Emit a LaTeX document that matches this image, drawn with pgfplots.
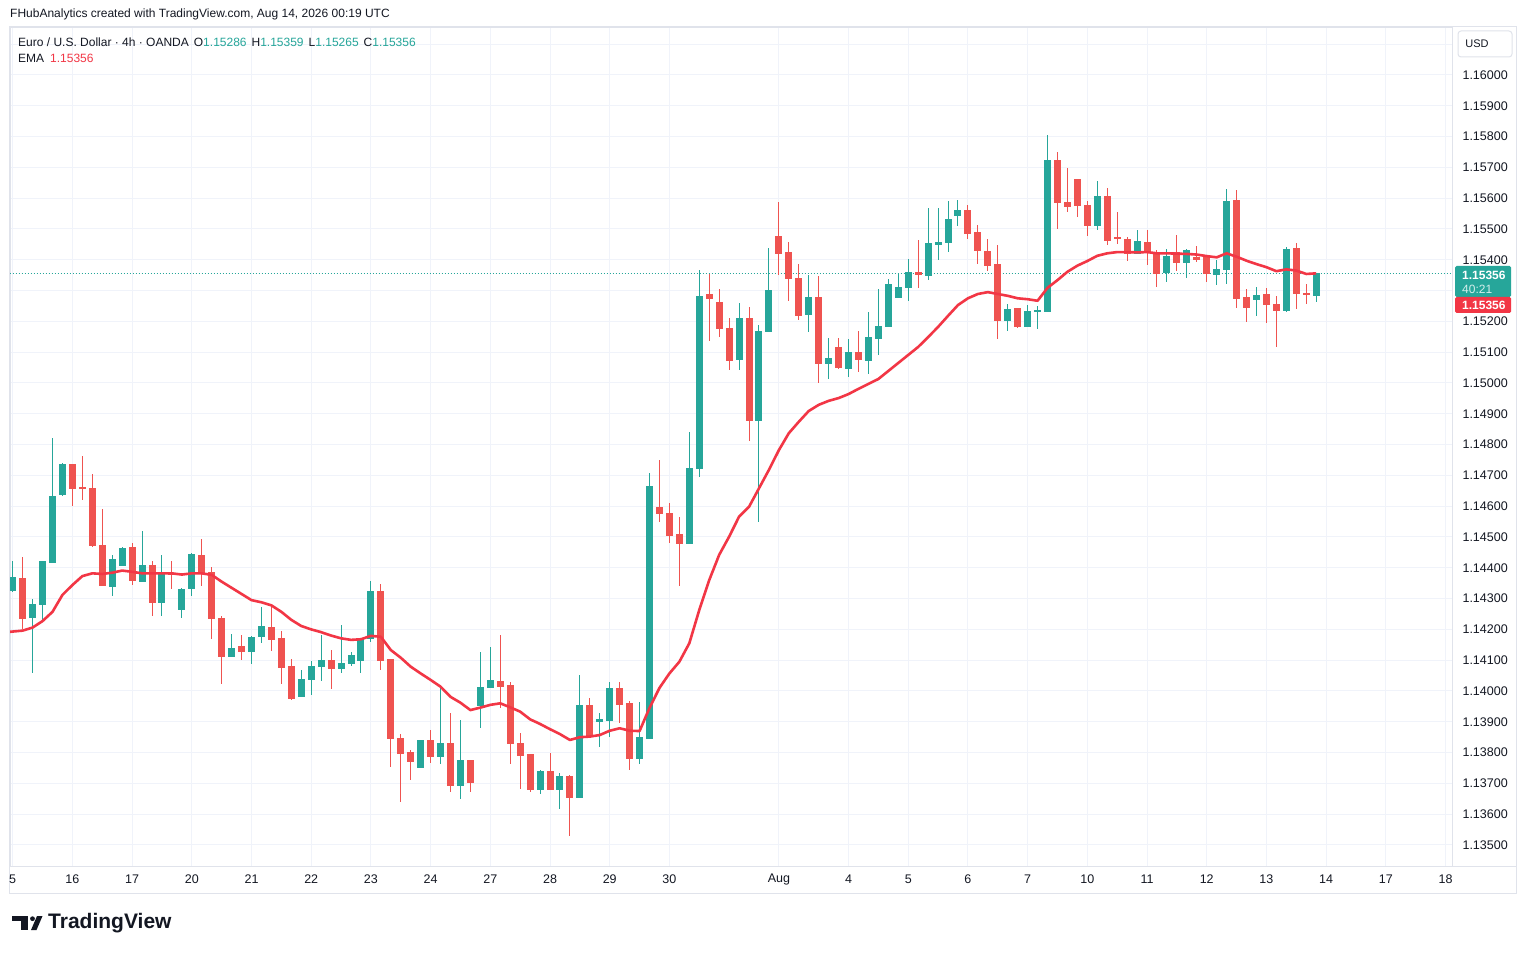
\documentclass[border=0pt]{standalone}
\usepackage{pgfplots}
\pgfplotsset{compat=1.18}
\usepackage{pgfplotstable}
\usepackage{fontspec}
\setmainfont{Liberation Sans}
\definecolor{tvup}{HTML}{26A69A}
\definecolor{tvdown}{HTML}{EF5350}
\definecolor{tvema}{HTML}{F23645}
\definecolor{tvtext}{HTML}{131722}
\definecolor{tvgrid}{HTML}{F0F3FA}
\definecolor{tvborder}{HTML}{E0E3EB}

% up (teal) candles: index, open, high, low, close
\pgfplotstableread{
i o h l c
0 1.14326 1.14422 1.14323 1.14370
2 1.14238 1.14299 1.14060 1.14283
3 1.14281 1.14419 1.14233 1.14419
4 1.14417 1.14822 1.14417 1.14633
5 1.14638 1.14742 1.14633 1.14737
10 1.14342 1.14442 1.14310 1.14429
11 1.14407 1.14468 1.14407 1.14465
13 1.14355 1.14520 1.14355 1.14409
15 1.14287 1.14442 1.14242 1.14381
17 1.14264 1.14335 1.14238 1.14331
18 1.14333 1.14448 1.14310 1.14442
22 1.14112 1.14185 1.14112 1.14137
24 1.14128 1.14178 1.14089 1.14175
25 1.14177 1.14273 1.14157 1.14211
29 1.13985 1.14068 1.13981 1.14039
30 1.14037 1.14099 1.13988 1.14081
31 1.14079 1.14183 1.14033 1.14099
33 1.14073 1.14214 1.14060 1.14090
34 1.14089 1.14128 1.14080 1.14117
35 1.14099 1.14169 1.14060 1.14169
36 1.14171 1.14357 1.14161 1.14325
41 1.13751 1.13841 1.13751 1.13841
43 1.13787 1.14012 1.13764 1.13831
45 1.13693 1.13906 1.13651 1.13776
47 1.13953 1.14127 1.13881 1.14013
48 1.14011 1.14144 1.14011 1.14036
53 1.13683 1.13743 1.13667 1.13740
55 1.13683 1.13734 1.13618 1.13724
57 1.13654 1.14052 1.13654 1.13955
59 1.13901 1.13929 1.13818 1.13907
60 1.13906 1.14032 1.13851 1.14010
63 1.13780 1.13967 1.13764 1.13851
64 1.13846 1.14708 1.13846 1.14666
68 1.14479 1.14841 1.14479 1.14724
69 1.14722 1.15367 1.14696 1.15283
73 1.15076 1.15260 1.15043 1.15211
75 1.14878 1.15188 1.14550 1.15169
76 1.15167 1.15438 1.15167 1.15302
80 1.15221 1.15351 1.15167 1.15279
82 1.15063 1.15146 1.15014 1.15081
84 1.15050 1.15143 1.15021 1.15101
86 1.15073 1.15231 1.15030 1.15146
87 1.15144 1.15305 1.15092 1.15185
88 1.15183 1.15338 1.15183 1.15321
89 1.15280 1.15354 1.15280 1.15312
90 1.15310 1.15403 1.15267 1.15360
92 1.15352 1.15568 1.15336 1.15455
93 1.15452 1.15568 1.15400 1.15458
94 1.15456 1.15591 1.15426 1.15532
95 1.15543 1.15594 1.15511 1.15562
100 1.15203 1.15258 1.15170 1.15240
102 1.15185 1.15253 1.15183 1.15234
103 1.15232 1.15250 1.15177 1.15236
104 1.15232 1.15805 1.15229 1.15724
109 1.15511 1.15656 1.15498 1.15607
113 1.15422 1.15497 1.15420 1.15461
116 1.15358 1.15438 1.15329 1.15412
118 1.15391 1.15435 1.15342 1.15429
121 1.15355 1.15399 1.15319 1.15370
122 1.15368 1.15630 1.15322 1.15591
125 1.15271 1.15312 1.15219 1.15286
128 1.15238 1.15442 1.15232 1.15435
131 1.15286 1.15359 1.15265 1.15356
}\upcandles

% down (red) candles: index, open, high, low, close
\pgfplotstableread{
i o h l c
1 1.14366 1.14435 1.14201 1.14238
6 1.14737 1.14737 1.14601 1.14657
7 1.14661 1.14763 1.14620 1.14657
8 1.14659 1.14705 1.14468 1.14471
9 1.14474 1.14591 1.14342 1.14342
12 1.14465 1.14481 1.14346 1.14359
14 1.14409 1.14422 1.14245 1.14287
16 1.14383 1.14422 1.14333 1.14380
19 1.14442 1.14494 1.14339 1.14384
20 1.14386 1.14403 1.14170 1.14235
21 1.14237 1.14242 1.14024 1.14112
23 1.14146 1.14182 1.14102 1.14128
26 1.14208 1.14285 1.14131 1.14167
27 1.14172 1.14195 1.14024 1.14076
28 1.14081 1.14104 1.13972 1.13975
32 1.14099 1.14133 1.14005 1.14073
37 1.14325 1.14348 1.14069 1.14102
38 1.14104 1.14104 1.13755 1.13845
39 1.13847 1.13862 1.13638 1.13797
40 1.13800 1.13809 1.13712 1.13771
42 1.13841 1.13874 1.13768 1.13787
44 1.13831 1.13929 1.13673 1.13693
46 1.13776 1.13776 1.13673 1.13703
49 1.14033 1.14182 1.13946 1.14017
50 1.14020 1.14029 1.13764 1.13829
51 1.13831 1.13864 1.13682 1.13793
52 1.13795 1.13795 1.13671 1.13680
54 1.13740 1.13799 1.13680 1.13683
56 1.13724 1.13727 1.13530 1.13654
58 1.13955 1.13977 1.13847 1.13857
61 1.14010 1.14029 1.13896 1.13959
62 1.13961 1.13967 1.13745 1.13780
65 1.14598 1.14750 1.14550 1.14576
66 1.14578 1.14611 1.14479 1.14505
67 1.14507 1.14565 1.14342 1.14479
70 1.15287 1.15354 1.15138 1.15274
71 1.15260 1.15308 1.15151 1.15176
72 1.15179 1.15211 1.15043 1.15076
74 1.15211 1.15247 1.14813 1.14878
77 1.15477 1.15588 1.15351 1.15419
78 1.15423 1.15459 1.15267 1.15339
79 1.15342 1.15386 1.15205 1.15221
81 1.15279 1.15347 1.15001 1.15063
83 1.15117 1.15146 1.15047 1.15050
85 1.15101 1.15169 1.15037 1.15076
91 1.15360 1.15464 1.15310 1.15353
96 1.15562 1.15578 1.15469 1.15485
97 1.15490 1.15513 1.15388 1.15430
98 1.15429 1.15468 1.15365 1.15381
99 1.15386 1.15448 1.15144 1.15202
101 1.15244 1.15244 1.15180 1.15185
105 1.15724 1.15750 1.15501 1.15586
106 1.15588 1.15698 1.15556 1.15576
107 1.15662 1.15662 1.15540 1.15576
108 1.15578 1.15591 1.15478 1.15511
110 1.15607 1.15636 1.15449 1.15464
111 1.15471 1.15555 1.15453 1.15468
112 1.15468 1.15474 1.15397 1.15421
114 1.15458 1.15497 1.15384 1.15425
115 1.15425 1.15432 1.15313 1.15358
117 1.15425 1.15481 1.15365 1.15391
119 1.15407 1.15445 1.15394 1.15403
120 1.15408 1.15415 1.15329 1.15355
123 1.15594 1.15627 1.15245 1.15277
124 1.15279 1.15305 1.15199 1.15245
126 1.15289 1.15308 1.15196 1.15254
127 1.15257 1.15283 1.15118 1.15235
129 1.15438 1.15455 1.15241 1.15290
130 1.15292 1.15322 1.15258 1.15289
}\downcandles

% EMA line
\pgfplotstableread{
i ema
-0.3 1.14192
0 1.14193
1 1.14196
2 1.14206
3 1.14227
4 1.14257
5 1.14312
6 1.14344
7 1.14373
8 1.14382
9 1.14380
10 1.14384
11 1.14391
12 1.14387
13 1.14382
14 1.14382
15 1.14382
16 1.14382
17 1.14378
18 1.14382
19 1.14382
20 1.14377
21 1.14355
22 1.14335
23 1.14315
24 1.14295
25 1.14288
26 1.14278
27 1.14257
28 1.14231
29 1.14211
30 1.14200
31 1.14191
32 1.14180
33 1.14171
34 1.14166
35 1.14168
36 1.14179
37 1.14176
38 1.14133
39 1.14108
40 1.14079
41 1.14057
42 1.14036
43 1.14014
44 1.13981
45 1.13962
46 1.13938
47 1.13946
48 1.13955
49 1.13960
50 1.13947
51 1.13933
52 1.13908
53 1.13893
54 1.13876
55 1.13860
56 1.13841
57 1.13850
58 1.13852
59 1.13857
60 1.13871
61 1.13879
62 1.13871
63 1.13870
64 1.13945
65 1.14010
66 1.14057
67 1.14095
68 1.14155
69 1.14263
70 1.14360
71 1.14442
72 1.14501
73 1.14566
74 1.14598
75 1.14658
76 1.14718
77 1.14782
78 1.14837
79 1.14874
80 1.14909
81 1.14929
82 1.14942
83 1.14951
84 1.14964
85 1.14981
86 1.14997
87 1.15013
88 1.15039
89 1.15065
90 1.15091
91 1.15117
92 1.15149
93 1.15182
94 1.15218
95 1.15253
96 1.15275
97 1.15289
98 1.15295
99 1.15289
100 1.15283
101 1.15275
102 1.15272
103 1.15267
104 1.15309
105 1.15334
106 1.15361
107 1.15381
108 1.15396
109 1.15413
110 1.15421
111 1.15425
112 1.15425
113 1.15424
114 1.15425
115 1.15421
116 1.15421
117 1.15420
118 1.15419
119 1.15417
120 1.15412
121 1.15408
122 1.15421
123 1.15410
124 1.15397
125 1.15386
126 1.15376
127 1.15363
128 1.15369
129 1.15365
130 1.15354
131 1.15356
}\ematable

\begin{document}
\begin{tikzpicture}[x=1pt,y=1pt]
\path[use as bounding box] (0,0) rectangle (1526,954);
\fill[white] (0,0) rectangle (1526,954);

% header
\node[anchor=west, inner sep=0pt, text=tvtext] at (10,940)
  {\fontsize{12}{14}\selectfont FHubAnalytics created with TradingView.com, Aug 14, 2026 00:19 UTC};

% widget frame
\draw[tvborder, line width=1pt] (9,61) rectangle (1516,927);
\draw[tvborder, line width=1pt] (1452,88) -- (1516,88);

\begin{axis}[
  at={(10pt,88pt)}, anchor=south west,
  scale only axis, width=1442pt, height=838pt,
  xmin=-0.271, xmax=144.65,
  ymin=1.134318, ymax=1.161526,
  axis line style={tvborder, line width=1pt},
  grid=major,
  major grid style={tvgrid, line width=1pt},
  major tick length=0pt,
  tick style={draw=none},
  xtick={0,6,12,18,24,30,36,42,48,54,60,66,77,84,90,96,102,108,114,120,126,132,138,144},
  xticklabels={5,16,17,20,21,22,23,24,27,28,29,30,Aug,4,5,6,7,10,11,12,13,14,17,18},
  ytick={1.135,1.136,1.137,1.138,1.139,1.140,1.141,1.142,1.143,1.144,1.145,1.146,1.147,1.148,1.149,1.150,1.151,1.152,1.153,1.154,1.155,1.156,1.157,1.158,1.159,1.160,1.161},
  yticklabels={1.13500,1.13600,1.13700,1.13800,1.13900,1.14000,1.14100,1.14200,1.14300,1.14400,1.14500,1.14600,1.14700,1.14800,1.14900,1.15000,1.15100,1.15200,{},1.15400,1.15500,1.15600,1.15700,1.15800,1.15900,1.16000,{}},
  yticklabel pos=right,
  yticklabel style={anchor=west, xshift=7pt, text=tvtext, font=\fontsize{12.5}{14}\selectfont},
  xticklabel style={anchor=center, yshift=-13pt, text=tvtext, font=\fontsize{12.5}{14}\selectfont},
]
% current price dotted line
\addplot[tvup, line width=1pt, dash pattern=on 1pt off 2pt, forget plot]
  coordinates {(-0.3,1.15356) (144.65,1.15356)};

% wicks
\addplot[draw=none, mark=none, forget plot,
  error bars/.cd, y dir=both, y explicit, error mark=none,
  error bar style={draw=tvup, solid, line width=1pt}]
  table[x=i, y expr={(\thisrow{h}+\thisrow{l})/2}, y error expr={(\thisrow{h}-\thisrow{l})/2}] {\upcandles};
\addplot[draw=none, mark=none, forget plot,
  error bars/.cd, y dir=both, y explicit, error mark=none,
  error bar style={draw=tvdown, solid, line width=1pt}]
  table[x=i, y expr={(\thisrow{h}+\thisrow{l})/2}, y error expr={(\thisrow{h}-\thisrow{l})/2}] {\downcandles};
% bodies
\addplot[draw=none, mark=none, forget plot,
  error bars/.cd, y dir=both, y explicit, error mark=none,
  error bar style={draw=tvup, solid, line width=7pt}]
  table[x=i, y expr={(\thisrow{o}+\thisrow{c})/2}, y error expr={abs(\thisrow{c}-\thisrow{o})/2+0.000015}] {\upcandles};
\addplot[draw=none, mark=none, forget plot,
  error bars/.cd, y dir=both, y explicit, error mark=none,
  error bar style={draw=tvdown, solid, line width=7pt}]
  table[x=i, y expr={(\thisrow{o}+\thisrow{c})/2}, y error expr={abs(\thisrow{c}-\thisrow{o})/2+0.000015}] {\downcandles};
% EMA
\addplot[tvema, line width=2.6pt, line join=round, mark=none] table[x=i, y=ema] {\ematable};
\end{axis}

% legend texts
\node[anchor=west, inner sep=0pt, text=tvtext] at (18,912)
  {\fontsize{12}{14}\selectfont Euro / U.S. Dollar · 4h · OANDA\hspace{5pt}O\textcolor{tvup}{1.15286}\hspace{5pt}H\textcolor{tvup}{1.15359}\hspace{5pt}L\textcolor{tvup}{1.15265}\hspace{5pt}C\textcolor{tvup}{1.15356}};
\node[anchor=west, inner sep=0pt, text=tvtext] at (18,896)
  {\fontsize{12}{14}\selectfont EMA\hspace{6pt}\textcolor{tvema}{1.15356}};

% USD box
\draw[tvborder, line width=1pt, fill=white, rounded corners=3pt] (1458,897) rectangle (1512,923);
\node[text=tvtext, inner sep=0pt] at (1477,910) {\fontsize{11}{13}\selectfont USD};

% last price labels
\fill[tvup, rounded corners=1.5pt] (1455,657) rectangle (1511,688);
\node[anchor=west, inner sep=0pt, text=white] at (1462,679) {\fontsize{12}{14}\selectfont\bfseries 1.15356};
\node[anchor=west, inner sep=0pt, text=white, opacity=0.8] at (1462,665) {\fontsize{12}{14}\selectfont 40:21};
\fill[tvema, rounded corners=1.5pt] (1455,641) rectangle (1511,657);
\node[anchor=west, inner sep=0pt, text=white] at (1462,649) {\fontsize{12}{14}\selectfont\bfseries 1.15356};

% TradingView logo
\fill[tvtext] (12,33.5) rectangle (28,38);
\fill[tvtext] (21,24) rectangle (28,38);
\fill[tvtext] (32.5,35.3) circle (2.4);
\fill[tvtext] (31,24) -- (36.5,24) -- (42.5,38) -- (37,38) -- cycle;
\node[anchor=west, inner sep=0pt, text=tvtext] at (48,31) {\fontsize{21}{25}\selectfont\bfseries TradingView};
\end{tikzpicture}
\end{document}
